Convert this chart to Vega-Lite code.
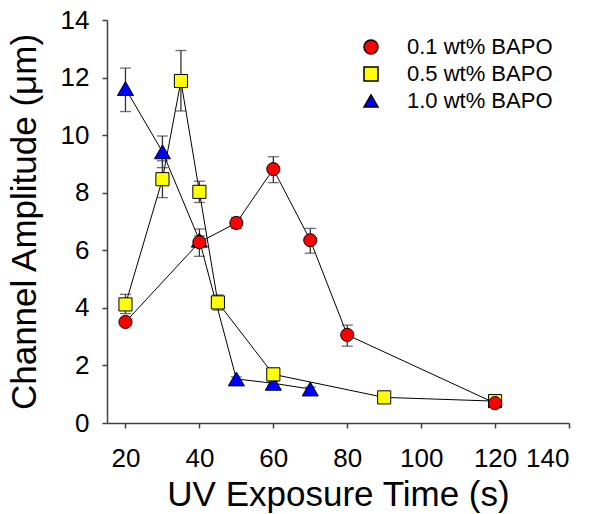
{
  "$schema": "https://vega.github.io/schema/vega-lite/v6.json",
  "autosize": "none",
  "width": 462,
  "height": 403,
  "padding": {"left": 107, "top": 20, "right": 26, "bottom": 91},
  "background": "white",
  "config": {
    "view": {"stroke": null},
    "font": "Liberation Sans",
    "axis": {
      "grid": false,
      "domainColor": "#404040",
      "domainWidth": 1.5,
      "tickColor": "#404040",
      "tickWidth": 1.5,
      "tickSize": 5,
      "labelFont": "Liberation Sans",
      "labelFontSize": 26,
      "labelColor": "black",
      "titleFont": "Liberation Sans",
      "titleFontSize": 35,
      "titleFontWeight": "normal",
      "titleColor": "black"
    }
  },
  "data": {
    "values": [
      {"series": "1.0 wt% BAPO", "t": 20, "amp": 11.62, "lo": 10.82, "hi": 12.33},
      {"series": "1.0 wt% BAPO", "t": 30, "amp": 9.42, "lo": 8.87, "hi": 9.97},
      {"series": "1.0 wt% BAPO", "t": 40, "amp": 6.35, "lo": 6.2, "hi": 6.5},
      {"series": "1.0 wt% BAPO", "t": 50, "amp": 1.53, "lo": 1.45, "hi": 1.6},
      {"series": "1.0 wt% BAPO", "t": 60, "amp": 1.38, "lo": 1.3, "hi": 1.45},
      {"series": "1.0 wt% BAPO", "t": 70, "amp": 1.18, "lo": 1.1, "hi": 1.25},
      {"series": "0.5 wt% BAPO", "t": 20, "amp": 4.12, "lo": 3.8, "hi": 4.47},
      {"series": "0.5 wt% BAPO", "t": 30, "amp": 8.47, "lo": 7.83, "hi": 9.11},
      {"series": "0.5 wt% BAPO", "t": 35, "amp": 11.88, "lo": 10.84, "hi": 12.94},
      {"series": "0.5 wt% BAPO", "t": 40, "amp": 8.03, "lo": 7.66, "hi": 8.4},
      {"series": "0.5 wt% BAPO", "t": 45, "amp": 4.19, "lo": 3.92, "hi": 4.45},
      {"series": "0.5 wt% BAPO", "t": 60, "amp": 1.69, "lo": 1.6, "hi": 1.78},
      {"series": "0.5 wt% BAPO", "t": 90, "amp": 0.89, "lo": 0.84, "hi": 0.94},
      {"series": "0.5 wt% BAPO", "t": 120, "amp": 0.76, "lo": 0.72, "hi": 0.8},
      {"series": "0.1 wt% BAPO", "t": 20, "amp": 3.51, "lo": 3.4, "hi": 3.62},
      {"series": "0.1 wt% BAPO", "t": 40, "amp": 6.28, "lo": 5.79, "hi": 6.74},
      {"series": "0.1 wt% BAPO", "t": 50, "amp": 6.95, "lo": 6.76, "hi": 7.14},
      {"series": "0.1 wt% BAPO", "t": 60, "amp": 8.82, "lo": 8.35, "hi": 9.25},
      {"series": "0.1 wt% BAPO", "t": 70, "amp": 6.35, "lo": 5.9, "hi": 6.76},
      {"series": "0.1 wt% BAPO", "t": 80, "amp": 3.06, "lo": 2.67, "hi": 3.4},
      {"series": "0.1 wt% BAPO", "t": 120, "amp": 0.69, "lo": 0.65, "hi": 0.73}
    ]
  },
  "encoding": {
    "x": {
      "field": "t", "type": "quantitative",
      "scale": {"domain": [15, 140], "nice": false, "zero": false},
      "axis": {"values": [20, 40, 60, 80, 100, 120, 140], "labelPadding": 17, "titlePadding": 6},
      "title": "UV Exposure Time (s)"
    }
  },
  "layer": [
    {
      "mark": {"type": "line", "color": "black", "strokeWidth": 1},
      "encoding": {
        "y": {
          "field": "amp", "type": "quantitative",
          "scale": {"domain": [0, 14], "nice": false},
          "axis": {"values": [0, 2, 4, 6, 8, 10, 12, 14], "labelPadding": 13, "titlePadding": 18},
          "title": "Channel Amplitude (μm)"
        },
        "detail": {"field": "series", "type": "nominal"}
      }
    },
    {
      "mark": {"type": "rule", "color": "#333333", "strokeWidth": 1.3},
      "encoding": {
        "y": {"field": "lo", "type": "quantitative"},
        "y2": {"field": "hi"}
      }
    },
    {
      "mark": {"type": "tick", "orient": "horizontal", "color": "#333333", "size": 11, "thickness": 1.3},
      "encoding": {"y": {"field": "lo", "type": "quantitative"}}
    },
    {
      "mark": {"type": "tick", "orient": "horizontal", "color": "#333333", "size": 11, "thickness": 1.3},
      "encoding": {"y": {"field": "hi", "type": "quantitative"}}
    },
    {
      "transform": [{"filter": "datum.series === '1.0 wt% BAPO'"}],
      "mark": {"type": "point", "filled": true, "stroke": "black", "strokeWidth": 1, "opacity": 1, "size": 256},
      "encoding": {
        "y": {"field": "amp", "type": "quantitative"},
        "shape": {
          "field": "series", "type": "nominal",
          "scale": {"domain": ["0.1 wt% BAPO", "0.5 wt% BAPO", "1.0 wt% BAPO"], "range": ["circle", "square", "triangle-up"]},
          "legend": {
            "orient": "top-right", "offset": 16, "title": null, "labelFontSize": 22, "labelColor": "black",
            "symbolSize": 196, "labelOffset": 25, "rowPadding": 5,
            "labelExpr": "datum.label + '\u00a0\u00a0\u00a0\u00a0\u00a0\u00a0\u00a0'"
          }
        },
        "fill": {
          "field": "series", "type": "nominal",
          "scale": {"domain": ["0.1 wt% BAPO", "0.5 wt% BAPO", "1.0 wt% BAPO"], "range": ["#ff0000", "#ffff00", "#0000ff"]},
          "legend": {
            "orient": "top-right", "offset": 16, "title": null, "labelFontSize": 22, "labelColor": "black",
            "symbolSize": 196, "labelOffset": 25, "rowPadding": 5,
            "labelExpr": "datum.label + '\u00a0\u00a0\u00a0\u00a0\u00a0\u00a0\u00a0'"
          }
        }
      }
    },
    {
      "transform": [{"filter": "datum.series !== '1.0 wt% BAPO'"}],
      "mark": {"type": "point", "filled": true, "stroke": "black", "strokeWidth": 1, "opacity": 1, "size": 172},
      "encoding": {
        "y": {"field": "amp", "type": "quantitative"},
        "shape": {"field": "series", "type": "nominal"},
        "fill": {"field": "series", "type": "nominal"}
      }
    }
  ]
}
